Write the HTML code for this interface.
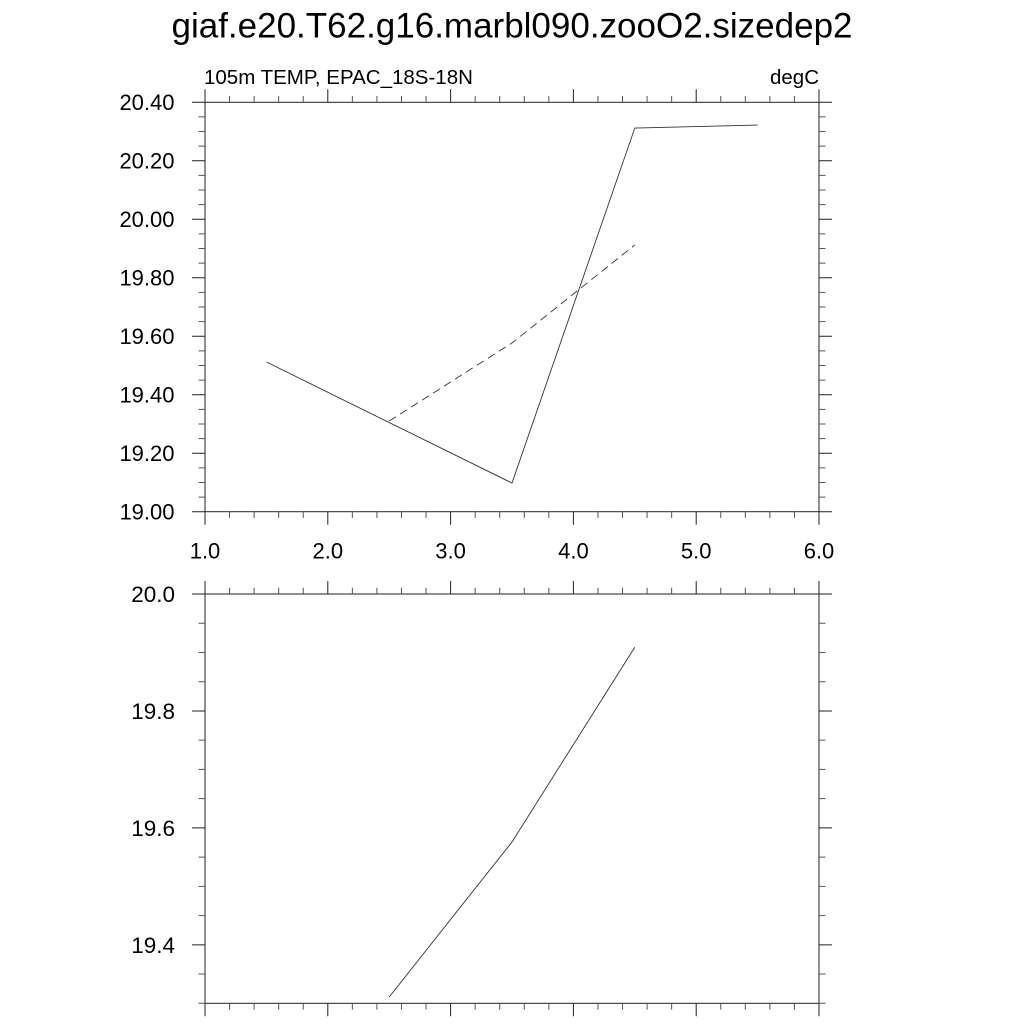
<!DOCTYPE html>
<html><head><meta charset="utf-8"><style>
html,body{margin:0;padding:0;background:#fff;}
svg{display:block;}
text{font-family:"Liberation Sans",Arial,sans-serif;fill:#000;}
</style></head><body>
<svg width="1024" height="1024" viewBox="0 0 1024 1024" xmlns="http://www.w3.org/2000/svg">
<text x="512" y="37.5" font-size="35" text-anchor="middle">giaf.e20.T62.g16.marbl090.zooO2.sizedep2</text>
<text x="204" y="84" font-size="20.5">105m TEMP, EPAC_18S-18N</text>
<text x="819" y="84" font-size="20.5" text-anchor="end">degC</text>

<!-- TOP PLOT -->
<g stroke="#222" stroke-width="1" fill="none">
<rect x="205" y="102.3" width="614" height="409.4"/>
<path d="M205 102.3V89.3M327.8 102.3V89.3M450.6 102.3V89.3M573.4 102.3V89.3M696.2 102.3V89.3M819 102.3V89.3
M205 511.7V524.7M327.8 511.7V524.7M450.6 511.7V524.7M573.4 511.7V524.7M696.2 511.7V524.7M819 511.7V524.7"/>
<path d="M192 511.7H205M192 453.21H205M192 394.73H205M192 336.24H205M192 277.76H205M192 219.27H205M192 160.78H205M192 102.3H205
M819 511.7H832M819 453.21H832M819 394.73H832M819 336.24H832M819 277.76H832M819 219.27H832M819 160.78H832M819 102.3H832"/>
</g>
<g stroke="#555" stroke-width="1" fill="none">
<path d="M229.56 102.3V96M254.12 102.3V96M278.68 102.3V96M303.24 102.3V96M352.36 102.3V96M376.92 102.3V96M401.48 102.3V96M426.04 102.3V96M475.16 102.3V96M499.72 102.3V96M524.28 102.3V96M548.84 102.3V96M597.96 102.3V96M622.52 102.3V96M647.08 102.3V96M671.64 102.3V96M720.76 102.3V96M745.32 102.3V96M769.88 102.3V96M794.44 102.3V96
M229.56 511.7V518M254.12 511.7V518M278.68 511.7V518M303.24 511.7V518M352.36 511.7V518M376.92 511.7V518M401.48 511.7V518M426.04 511.7V518M475.16 511.7V518M499.72 511.7V518M524.28 511.7V518M548.84 511.7V518M597.96 511.7V518M622.52 511.7V518M647.08 511.7V518M671.64 511.7V518M720.76 511.7V518M745.32 511.7V518M769.88 511.7V518M794.44 511.7V518"/>
<path d="M198.5 497.08H205M198.5 482.46H205M198.5 467.84H205M198.5 438.59H205M198.5 423.97H205M198.5 409.35H205M198.5 380.11H205M198.5 365.49H205M198.5 350.86H205M198.5 321.62H205M198.5 307H205M198.5 292.38H205M198.5 263.14H205M198.5 248.51H205M198.5 233.89H205M198.5 204.65H205M198.5 190.03H205M198.5 175.41H205M198.5 146.16H205M198.5 131.54H205M198.5 116.92H205
M819 497.08H825.5M819 482.46H825.5M819 467.84H825.5M819 438.59H825.5M819 423.97H825.5M819 409.35H825.5M819 380.11H825.5M819 365.49H825.5M819 350.86H825.5M819 321.62H825.5M819 307H825.5M819 292.38H825.5M819 263.14H825.5M819 248.51H825.5M819 233.89H825.5M819 204.65H825.5M819 190.03H825.5M819 175.41H825.5M819 146.16H825.5M819 131.54H825.5M819 116.92H825.5"/>
</g>
<g font-size="22" text-anchor="end">
<text x="174.5" y="519.5">19.00</text>
<text x="174.5" y="461">19.20</text>
<text x="174.5" y="402.5">19.40</text>
<text x="174.5" y="344">19.60</text>
<text x="174.5" y="285.5">19.80</text>
<text x="174.5" y="227">20.00</text>
<text x="174.5" y="168.5">20.20</text>
<text x="174.5" y="110">20.40</text>
</g>
<g font-size="22" text-anchor="middle">
<text x="205" y="558.5">1.0</text>
<text x="327.8" y="558.5">2.0</text>
<text x="450.6" y="558.5">3.0</text>
<text x="573.4" y="558.5">4.0</text>
<text x="696.2" y="558.5">5.0</text>
<text x="819" y="558.5">6.0</text>
</g>
<g fill="none" stroke="#333" stroke-width="0.9">
<polyline points="266.4,361.98 512,483.04 634.8,128.03 757.6,125.1"/>
<polyline points="389.2,421.05 512,342.97 634.8,245" stroke-dasharray="8,5"/>
</g>

<!-- BOTTOM PLOT -->
<g stroke="#222" stroke-width="1" fill="none">
<rect x="205" y="594" width="614" height="409.3"/>
<path d="M205 594V581M327.8 594V581M450.6 594V581M573.4 594V581M696.2 594V581M819 594V581
M205 1003.3V1016.3M327.8 1003.3V1016.3M450.6 1003.3V1016.3M573.4 1003.3V1016.3M696.2 1003.3V1016.3M819 1003.3V1016.3"/>
<path d="M192 594H205M192 710.94H205M192 827.88H205M192 944.82H205
M819 594H832M819 710.94H832M819 827.88H832M819 944.82H832"/>
</g>
<g stroke="#555" stroke-width="1" fill="none">
<path d="M229.56 594V587.7M254.12 594V587.7M278.68 594V587.7M303.24 594V587.7M352.36 594V587.7M376.92 594V587.7M401.48 594V587.7M426.04 594V587.7M475.16 594V587.7M499.72 594V587.7M524.28 594V587.7M548.84 594V587.7M597.96 594V587.7M622.52 594V587.7M647.08 594V587.7M671.64 594V587.7M720.76 594V587.7M745.32 594V587.7M769.88 594V587.7M794.44 594V587.7
M229.56 1003.3V1009.6M254.12 1003.3V1009.6M278.68 1003.3V1009.6M303.24 1003.3V1009.6M352.36 1003.3V1009.6M376.92 1003.3V1009.6M401.48 1003.3V1009.6M426.04 1003.3V1009.6M475.16 1003.3V1009.6M499.72 1003.3V1009.6M524.28 1003.3V1009.6M548.84 1003.3V1009.6M597.96 1003.3V1009.6M622.52 1003.3V1009.6M647.08 1003.3V1009.6M671.64 1003.3V1009.6M720.76 1003.3V1009.6M745.32 1003.3V1009.6M769.88 1003.3V1009.6M794.44 1003.3V1009.6"/>
<path d="M198.5 623.24H205M198.5 652.47H205M198.5 681.71H205M198.5 740.18H205M198.5 769.41H205M198.5 798.65H205M198.5 857.12H205M198.5 886.35H205M198.5 915.59H205M198.5 974.06H205M198.5 1003.3H205
M819 623.24H825.5M819 652.47H825.5M819 681.71H825.5M819 740.18H825.5M819 769.41H825.5M819 798.65H825.5M819 857.12H825.5M819 886.35H825.5M819 915.59H825.5M819 974.06H825.5M819 1003.3H825.5"/>
</g>
<g font-size="22.5" text-anchor="end">
<text x="175" y="602">20.0</text>
<text x="175" y="719">19.8</text>
<text x="175" y="836">19.6</text>
<text x="175" y="953">19.4</text>
</g>
<g fill="none" stroke="#333" stroke-width="0.9">
<polyline points="389.2,996.98 512,841.93 634.8,647.2"/>
</g>
</svg>
</body></html>
